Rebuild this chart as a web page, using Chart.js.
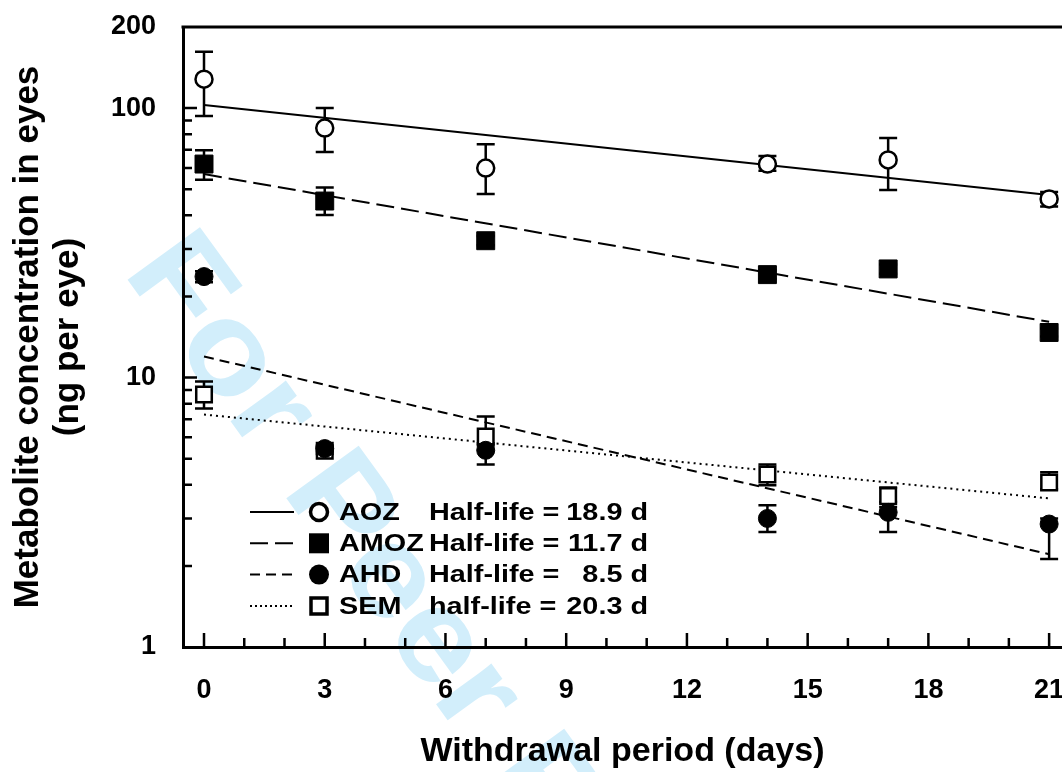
<!DOCTYPE html>
<html>
<head>
<meta charset="utf-8">
<script src="https://cdn.jsdelivr.net/npm/chart.js@4"></script>
<style>
  body { margin: 0; background: #fff; }
  canvas { display: block; }
</style>
</head>
<body>
<canvas id="eyeChart" width="1062" height="772"></canvas>
<script>
// sampling days
const days = [0, 3, 7, 14, 17, 21];
const xTicks = [0, 3, 6, 9, 12, 15, 18, 21];
const yTicks = [1, 10, 100, 200];

// means and error bar ends (ng per eye)
const aozMean = [128, 84.3, 59.9, 62.0, 64.2, 46.0];
const aozHigh = [162, 100, 73.5, 66.4, 77.4, 48.8];
const aozLow = [93.4, 68.7, 48.0, 58.5, 49.7, 43.1];

const amozMean = [62.0, 45.2, 32.2, 24.1, 25.3, 14.7];
const amozHigh = [69.8, 50.7, 33.5, 25.0, 26.3, 15.2];
const amozLow = [54.2, 40.1, 31.0, 23.2, 24.3, 14.2];

const ahdMean = [23.7, 5.45, 5.37, 3.00, 3.16, 2.86];
const ahdHigh = [24.8, 5.6, 5.6, 3.36, 3.3, 3.0];
const ahdLow = [22.6, 5.3, 4.76, 2.67, 2.67, 2.12];

const semMean = [8.65, 5.35, 6.04, 4.37, 3.63, 4.08];
const semHigh = [9.66, 5.5, 7.17, 4.76, 3.91, 4.45];
const semLow = [7.68, 5.2, 5.7, 3.98, 3.45, 3.85];

// first order decay fits, start and end
const fitDays = [0, 21];
const aozFit = [102.6, 47.6];
const amozFit = [56.9, 16.1];
const ahdFit = [11.97, 2.21];
const semFit = [7.29, 3.56];

const legendRows = [
  { name: 'AOZ', label: 'Half-life =', value: '18.9 d', dash: [], marker: 'openCircle' },
  { name: 'AMOZ', label: 'Half-life =', value: '11.7 d', dash: [18, 7], marker: 'square' },
  { name: 'AHD', label: 'Half-life =', value: '8.5 d', dash: [10, 6], marker: 'circle' },
  { name: 'SEM', label: 'half-life =', value: '20.3 d', dash: [2, 3], marker: 'openSquare' }
];

const FONT = '"Liberation Sans", Arial, Helvetica, sans-serif';

function pts(xs, ys) {
  return xs.map((x, i) => ({ x: x, y: ys[i] }));
}

const errorSets = [
  { high: aozHigh, low: aozLow },
  { high: amozHigh, low: amozLow },
  { high: ahdHigh, low: ahdLow },
  { high: semHigh, low: semLow }
];

// watermark under everything
const watermark = {
  id: 'watermark',
  beforeDraw(chart) {
    const ctx = chart.ctx;
    ctx.save();
    ctx.translate(122, 272);
    ctx.rotate(54 * Math.PI / 180);
    ctx.scale(1.1, 1);
    ctx.font = 'bold 130px ' + FONT;
    ctx.fillStyle = '#d2eefb';
    ctx.textBaseline = 'alphabetic';
    ctx.fillText('For Peer Review', 0, 0);
    ctx.restore();
  }
};

// inward ticks, top frame line and error bars
const frame = {
  id: 'frame',
  beforeDatasetsDraw(chart) {
    const ctx = chart.ctx;
    const xs = chart.scales.x, ys = chart.scales.y;
    const area = chart.chartArea;
    ctx.save();
    ctx.strokeStyle = '#000';
    ctx.lineWidth = 3;
    ctx.beginPath();
    ctx.moveTo(area.left - 1.5, area.top);
    ctx.lineTo(area.right, area.top);
    ctx.stroke();

    ctx.lineWidth = 2.5;
    ctx.beginPath();
    for (let d = 0; d <= 21; d++) {
      const x = xs.getPixelForValue(d);
      const len = d % 3 === 0 ? 14 : 9;
      ctx.moveTo(x, area.bottom);
      ctx.lineTo(x, area.bottom - len);
    }
    [1, 10].forEach(dec => {
      for (let m = 2; m <= 10; m++) {
        const y = ys.getPixelForValue(m * dec);
        const len = m === 10 ? 14 : 9;
        ctx.moveTo(area.left, y);
        ctx.lineTo(area.left + len, y);
      }
    });
    ctx.stroke();

    errorSets.forEach(s => {
      days.forEach((d, i) => {
        const x = xs.getPixelForValue(d);
        const top = ys.getPixelForValue(s.high[i]);
        const bot = ys.getPixelForValue(s.low[i]);
        ctx.beginPath();
        ctx.moveTo(x, top); ctx.lineTo(x, bot);
        ctx.moveTo(x - 9, top); ctx.lineTo(x + 9, top);
        ctx.moveTo(x - 9, bot); ctx.lineTo(x + 9, bot);
        ctx.stroke();
      });
    });
    ctx.restore();
  }
};

// text drawn a little wide, like the original figure
function wideText(ctx, text, x, y, align) {
  const sx = 1.2;
  let w = ctx.measureText(text).width * sx;
  let left = align === 'right' ? x - w : x;
  ctx.save();
  ctx.translate(left, y);
  ctx.scale(sx, 1);
  ctx.textAlign = 'left';
  ctx.fillText(text, 0, 0);
  ctx.restore();
}

// legend box with line sample, marker, name and half-life
const halfLifeLegend = {
  id: 'halfLifeLegend',
  afterDraw(chart) {
    const ctx = chart.ctx;
    ctx.save();
    ctx.font = 'bold 24px ' + FONT;
    ctx.textBaseline = 'middle';
    ctx.strokeStyle = '#000';
    legendRows.forEach((row, i) => {
      const y = 512 + i * 31.3;
      ctx.lineWidth = 2;
      ctx.setLineDash(row.dash);
      ctx.beginPath();
      ctx.moveTo(250, y);
      ctx.lineTo(294, y);
      ctx.stroke();
      ctx.setLineDash([]);

      const mx = 319;
      ctx.lineWidth = 3.5;
      ctx.beginPath();
      if (row.marker === 'openCircle') {
        ctx.arc(mx, y, 8.5, 0, Math.PI * 2);
        ctx.fillStyle = '#fff'; ctx.fill(); ctx.stroke();
      } else if (row.marker === 'circle') {
        ctx.arc(mx, y, 10, 0, Math.PI * 2);
        ctx.fillStyle = '#000'; ctx.fill();
      } else if (row.marker === 'square') {
        ctx.fillStyle = '#000';
        ctx.fillRect(mx - 10, y - 10, 20, 20);
      } else {
        ctx.rect(mx - 8, y - 8, 16, 16);
        ctx.fillStyle = '#fff'; ctx.fill(); ctx.stroke();
      }
      ctx.fillStyle = '#000';
      wideText(ctx, row.name, 339, y + 1, 'left');
      wideText(ctx, row.label, 429, y + 1, 'left');
      wideText(ctx, row.value, 648, y + 1, 'right');
    });
    ctx.restore();
  }
};

function fitLine(data, dash) {
  return {
    type: 'line',
    data: pts(fitDays, data),
    borderColor: '#000',
    borderWidth: 2,
    borderDash: dash,
    pointRadius: 0,
    fill: false,
    order: 2,
    clip: false
  };
}

function pointSet(label, data, style, radius, bg, bw) {
  return {
    type: 'line',
    label: label,
    data: pts(days, data),
    showLine: false,
    pointStyle: style,
    pointRadius: radius,
    pointBackgroundColor: bg,
    pointBorderColor: '#000',
    pointBorderWidth: bw,
    order: 1,
    clip: false
  };
}

function noPadding(s) {
  s.paddingTop = 0;
  s.paddingBottom = 0;
  s.paddingLeft = 0;
  s.paddingRight = 0;
}

new Chart(document.getElementById('eyeChart').getContext('2d'), {
  type: 'line',
  data: {
    datasets: [
      pointSet('AOZ', aozMean, 'circle', 8.5, '#fff', 2.5),
      pointSet('AMOZ', amozMean, 'rect', 12.7, '#000', 1),
      pointSet('AHD', ahdMean, 'circle', 9, '#000', 1),
      pointSet('SEM', semMean, 'rect', 11, '#fff', 2.5),
      fitLine(aozFit, []),
      fitLine(amozFit, [18, 7]),
      fitLine(ahdFit, [10, 6]),
      fitLine(semFit, [2, 4])
    ]
  },
  options: {
    responsive: false,
    animation: false,
    devicePixelRatio: 1,
    layout: { autoPadding: false, padding: { top: 27, right: 0, left: 0, bottom: 0 } },
    plugins: {
      legend: { display: false },
      tooltip: { enabled: false }
    },
    scales: {
      x: {
        type: 'linear',
        min: -0.522,
        max: 21.32,
        afterBuildTicks: s => { s.ticks = xTicks.map(v => ({ value: v })); },
        afterFit: s => { s.height = 125; noPadding(s); },
        grid: { display: false, drawTicks: false },
        border: { display: true, color: '#000', width: 3 },
        ticks: {
          padding: 27,
          color: '#000',
          font: { family: FONT, size: 27, weight: 'bold' },
          maxRotation: 0,
          autoSkip: false
        },
        title: {
          display: true,
          text: 'Withdrawal period (days)',
          color: '#000',
          font: { family: FONT, size: 34, weight: 'bold', lineHeight: 1.2 },
          padding: { top: 0, bottom: 0 }
        }
      },
      y: {
        type: 'logarithmic',
        min: 1,
        max: 200,
        afterBuildTicks: s => { s.ticks = yTicks.map(v => ({ value: v })); },
        afterFit: s => { s.width = 183; noPadding(s); },
        grid: { display: false, drawTicks: false },
        border: { display: true, color: '#000', width: 3 },
        ticks: {
          padding: 27,
          color: '#000',
          font: { family: FONT, size: 27, weight: 'bold' },
          autoSkip: false,
          callback: v => String(v)
        },
        title: {
          display: true,
          text: ['Metabolite concentration in eyes', '(ng per eye)'],
          color: '#000',
          font: { family: FONT, size: 35, weight: 'bold', lineHeight: 1.15 },
          padding: { top: 8, bottom: 0 }
        }
      }
    }
  },
  plugins: [watermark, frame, halfLifeLegend]
});
</script>
</body>
</html>
